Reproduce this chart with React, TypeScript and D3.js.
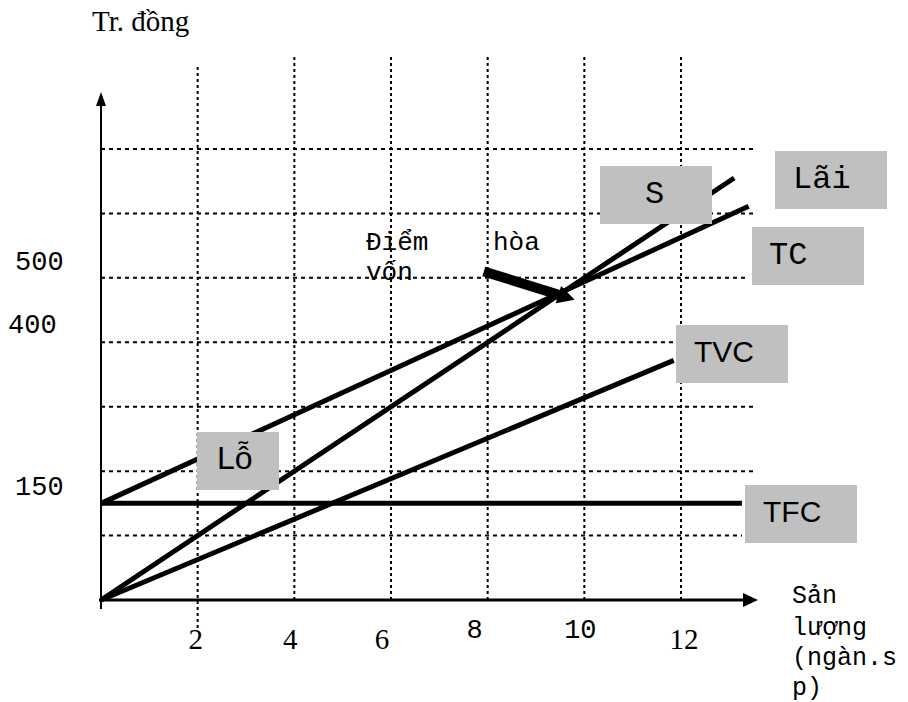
import React from "react";
import * as d3 from "d3";

// ---- data ----
const xGridValues = [2, 4, 6, 8, 10, 12];
const yGridValues = [100, 200, 300, 400, 500, 600, 700];
const xTickLabels = ["2", "4", "6", "8", "10", "12"];
const yTickValues = [500, 400, 150];
const yTickLabels = ["500", "400", "150"];

// revenue S, total cost TC, variable cost TVC, fixed cost TFC (q in ngàn sp, value in tr. đồng)
const sLine = [
  { q: 0, v: 0 },
  { q: 13.1, v: 655 },
];
const tcLine = [
  { q: 0, v: 150 },
  { q: 13.4, v: 611 },
];
const tvcLine = [
  { q: 0, v: 0 },
  { q: 11.85, v: 372 },
];
const tfcLine = [
  { q: 0, v: 150 },
  { q: 13.26, v: 150 },
];
const breakEvenArrow = [
  { q: 7.92, v: 510 },
  { q: 9.8, v: 466 },
];

const boxLabels = ["S", "Lãi", "TC", "TVC", "TFC", "Lỗ"];

// ---- layout ----
const W = 908;
const H = 702;
const x = d3.scaleLinear().domain([0, 12]).range([101, 681]);
const y = d3.scaleLinear().domain([0, 700]).range([600, 149]);

const MONO = "'Liberation Mono', 'DejaVu Sans Mono', monospace";
const SERIF = "'Liberation Serif', 'DejaVu Serif', serif";
const SANS = "'Liberation Sans', Arial, sans-serif";

// horizontal grid right ends (px), per grid value
const hGridEnd = [742, 756, 756, 676, 749, 755, 755];
// vertical grid extents (px)
const vGridTop = [67, 57, 57, 57, 57, 57];
const vGridBottom = [632, 600, 600, 600, 600, 600];

// tick label styling/placement
const xTickFont = [SERIF, SERIF, SERIF, MONO, MONO, SERIF];
const xTickSize = [29, 29, 29, 27, 27, 29];
const xTickBase = [649, 649, 649, 638, 638, 649];
const xTickDx = [-2, -4, -9, -13, -4, 3];
const yTickX = [15, 8, 15];
const yTickDy = [-8, -9, -8];

// box label layout: [x, y, w, h, textX, font, size]
const boxLayout: [number, number, number, number, number, string, number][] = [
  [600, 166, 112, 58, 645, MONO, 32],
  [775, 151, 112, 58, 793, MONO, 32],
  [752, 227, 112, 58, 769, MONO, 32],
  [676, 325, 112, 58, 694, SANS, 30],
  [745, 485, 112, 58, 763, SANS, 30],
  [197, 432, 82, 58, 217, SANS, 32],
];

const lineGen = d3
  .line<{ q: number; v: number }>()
  .x((d) => x(d.q))
  .y((d) => y(d.v));

function Arrow() {
  const [a, b] = breakEvenArrow;
  const x1 = x(a.q),
    y1 = y(a.v),
    x2 = x(b.q),
    y2 = y(b.v);
  const len = Math.hypot(x2 - x1, y2 - y1);
  const ux = (x2 - x1) / len,
    uy = (y2 - y1) / len;
  const px = -uy,
    py = ux;
  const headLen = 17;
  const headW = 9;
  const bx = x2 - ux * headLen,
    by = y2 - uy * headLen;
  return (
    <g>
      <line x1={x1} y1={y1} x2={bx + ux} y2={by + uy} stroke="#000" strokeWidth={10} />
      <polygon
        points={`${x2},${y2} ${bx + px * headW},${by + py * headW} ${bx - px * headW},${by - py * headW}`}
        fill="#000"
      />
    </g>
  );
}

export default function App() {
  const x0 = x(0);
  const y0 = y(0);
  return (
    <svg width={W} height={H} style={{ display: "block", position: "absolute", left: 0, top: 0, background: "#fff" }}>
      <rect width={W} height={H} fill="#fff" />
      {/* grid */}
      {yGridValues.map((v, i) => (
        <line
          key={"h" + v}
          x1={x0}
          x2={hGridEnd[i]}
          y1={y(v)}
          y2={y(v)}
          stroke="#000"
          strokeWidth={2}
          strokeDasharray="4,4"
        />
      ))}
      {xGridValues.map((q, i) => (
        <line
          key={"v" + q}
          x1={x(q)}
          x2={x(q)}
          y1={vGridTop[i]}
          y2={vGridBottom[i]}
          stroke="#000"
          strokeWidth={2}
          strokeDasharray="3,3"
        />
      ))}
      {/* axes */}
      <line x1={x0} x2={x0} y1={y0 + 9} y2={102} stroke="#000" strokeWidth={2} />
      <polygon points={`${x0},92 ${x0 - 5},106 ${x0 + 5},106`} fill="#000" />
      <line x1={x0 - 2} x2={745} y1={y0} y2={y0} stroke="#000" strokeWidth={3} />
      <polygon points={`758,${y0} 743,${y0 - 7} 743,${y0 + 7}`} fill="#000" />
      {/* curves */}
      {[tfcLine, tvcLine, tcLine, sLine].map((d, i) => (
        <path key={i} d={lineGen(d) || ""} fill="none" stroke="#000" strokeWidth={5} />
      ))}
      <Arrow />
      {/* boxes */}
      {boxLabels.map((t, i) => {
        const [bx, by, bw, bh, tx, font, fs] = boxLayout[i];
        return (
          <g key={t}>
            <rect x={bx} y={by} width={bw} height={bh} fill="#c0c0c0" />
            <text x={tx} y={by + 37} fontFamily={font} fontSize={fs} fill="#000">
              {t}
            </text>
          </g>
        );
      })}
      {/* tick labels */}
      {xTickLabels.map((t, i) => (
        <text
          key={"xt" + t}
          x={x(xGridValues[i]) + xTickDx[i]}
          y={xTickBase[i]}
          textAnchor="middle"
          fontFamily={xTickFont[i]}
          fontSize={xTickSize[i]}
          fill="#000"
        >
          {t}
        </text>
      ))}
      {yTickLabels.map((t, i) => (
        <text
          key={"yt" + t}
          x={yTickX[i]}
          y={y(yTickValues[i]) + yTickDy[i]}
          fontFamily={MONO}
          fontSize={27}
          fill="#000"
        >
          {t}
        </text>
      ))}
      {/* titles */}
      <text x={92} y={31} fontFamily={SERIF} fontSize={29} fill="#000">
        Tr. đồng
      </text>
      <text fontFamily={MONO} fontSize={26} fill="#000">
        <tspan x={366} y={250}>Điểm</tspan>
        <tspan x={493} y={250}>hòa</tspan>
        <tspan x={366} y={280}>vốn</tspan>
      </text>
      <text fontFamily={MONO} fontSize={25} fill="#000">
        <tspan x={792} y={603}>Sản</tspan>
        <tspan x={792} y={635}>lượng</tspan>
        <tspan x={792} y={665}>(ngàn.s</tspan>
        <tspan x={792} y={695}>p)</tspan>
      </text>
    </svg>
  );
}
